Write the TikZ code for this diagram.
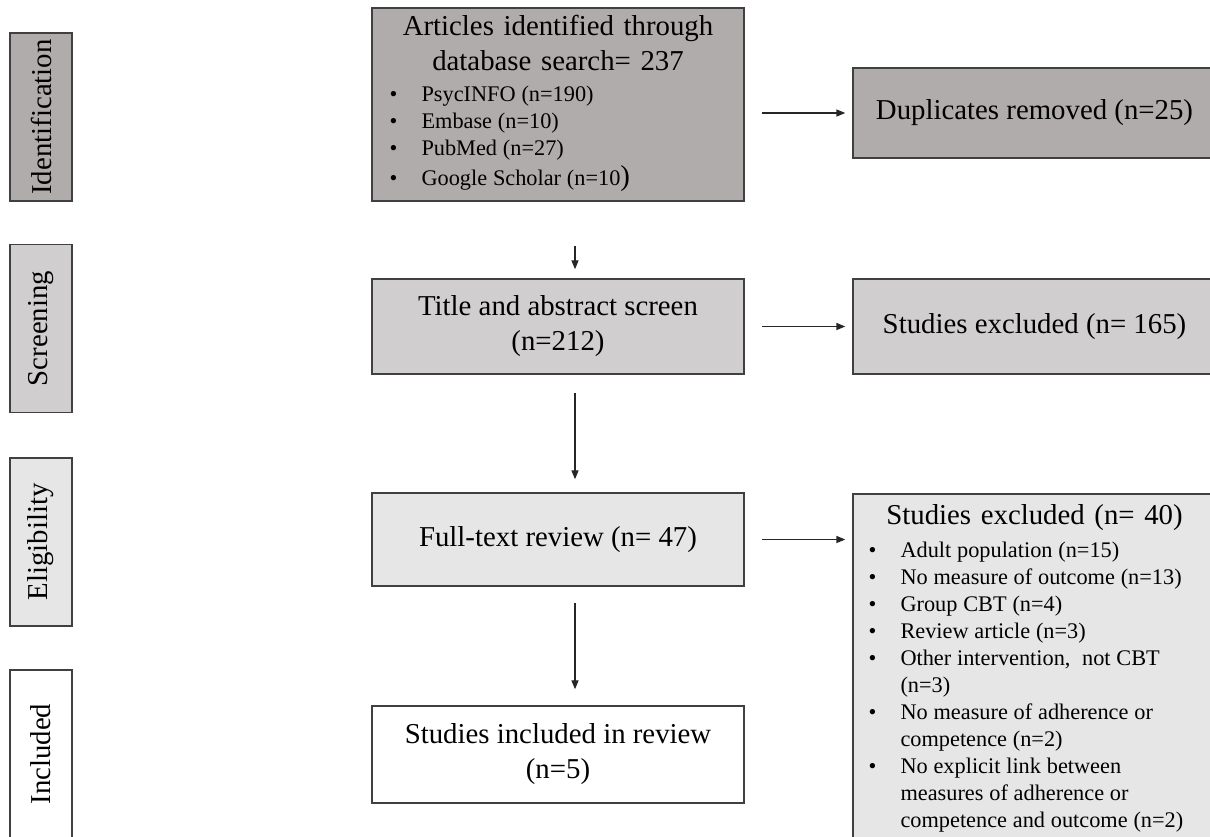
\documentclass[tikz,border=0pt]{standalone}
\usepackage{fontspec}
\setmainfont{Liberation Serif}
\usepackage{tikz}
\usetikzlibrary{arrows.meta,positioning,calc}
\definecolor{identgray}{HTML}{B0ACAB}
\definecolor{screengray}{HTML}{D0CECF}
\definecolor{eliggray}{HTML}{E6E6E6}
\definecolor{edgegray}{HTML}{404040}
\newcommand{\bigtxt}{\fontsize{16.4}{19.9}\selectfont}
\newcommand{\smalltxt}{\fontsize{12.7}{15.4}\selectfont\spaceskip=3.3pt\relax\xspaceskip=3.3pt\relax}

\begin{document}
\begin{tikzpicture}[x=0.02cm,y=-0.02cm,>={Triangle[length=5pt,width=4pt]},font=\bigtxt,
  box/.style={draw=edgegray,line width=0.9pt,inner xsep=0.3cm,align=center},
  phase/.style={box,rotate=90,minimum width=3.36cm,minimum height=1.24cm,inner sep=0pt},
  arr/.style={->,line width=0.6pt,draw=black!85},
  hshort/.style={shorten <=0.34cm,shorten >=0.14cm}]
\useasboundingbox (0,0) rectangle (1210,836);
\clip (0,0) rectangle (1210,836);
% phases
\foreach \nm/\yy/\col/\lbl in {idnt/117/identgray/Identification,scrn/328.5/screengray/Screening,elig/542/eliggray/Eligibility,incd/754/white/Included}{
  \node[phase,fill=\col] (\nm) at (41,\yy) {\lbl};
}
% main column
\node[box,fill=identgray,text width=6.84cm,minimum height=3.86cm] (search) at (558,104.5)
  {Articles identified through\\database search= 237\\[-0.08cm]
   {\smalltxt\begin{tabular}[t]{@{}p{0.64cm}@{}p{6.1cm}@{}}
   \textbullet & PsycINFO (n=190)\\
   \textbullet & Embase (n=10)\\
   \textbullet & PubMed (n=27)\\[0.04cm]
   \textbullet & Google Scholar (n=10{\bigtxt )}
   \end{tabular}}};
\node[box,fill=screengray,minimum width=7.44cm,minimum height=1.9cm] (tiab) at (558,326.5)
  {Title and abstract screen\\(n=212)};
\node[box,fill=eliggray,minimum width=7.44cm,minimum height=1.86cm] (fulltext) at (558,539.5)
  {Full-text review (n= 47)};
\node[box,fill=white,minimum width=7.44cm,minimum height=1.94cm] (included) at (558,754.5)
  {Studies included in review\\(n=5)};
% exclusions
\node[box,fill=identgray,minimum width=7.26cm,minimum height=1.8cm] (dupl) at (1034.5,113)
  {Duplicates removed (n=25)};
\node[box,fill=screengray,minimum width=7.26cm,minimum height=1.9cm] (exclA) at (1034.5,326.5)
  {Studies excluded (n= 165)};
\node[box,fill=eliggray,text width=6.66cm,anchor=north,inner ysep=0.22cm] (exclB) at (1034.5,493)
  {Studies excluded (n= 40)\\[-0.05cm]
   {\smalltxt\begin{tabular}[t]{@{}p{0.64cm}@{}p{6.0cm}@{}}
   \textbullet & Adult population (n=15)\\
   \textbullet & No measure of outcome (n=13)\\
   \textbullet & Group CBT (n=4)\\
   \textbullet & Review article (n=3)\\
   \textbullet & Other intervention, \ not CBT\\
               & (n=3)\\
   \textbullet & No measure of adherence or\\
               & competence (n=2)\\
   \textbullet & No explicit link between\\
               & measures of adherence or\\
               & competence and outcome (n=2)
   \end{tabular}}};
% arrows
\draw[arr,hshort] (search.east |- dupl.west) -- (dupl.west);
\draw[arr,hshort] (tiab.east) -- (exclA.west);
\draw[arr,hshort] (fulltext.east) -- (fulltext.east -| exclB.west);
\draw[arr,shorten <=0.88cm,shorten >=0.18cm] ([xshift=0.34cm]search.south) -- ([xshift=0.34cm]tiab.north);
\draw[arr,shorten <=0.36cm,shorten >=0.26cm] ([xshift=0.34cm]tiab.south) -- ([xshift=0.34cm]fulltext.north);
\draw[arr,shorten <=0.32cm,shorten >=0.32cm] ([xshift=0.34cm]fulltext.south) -- ([xshift=0.34cm]included.north);
\end{tikzpicture}
\end{document}
